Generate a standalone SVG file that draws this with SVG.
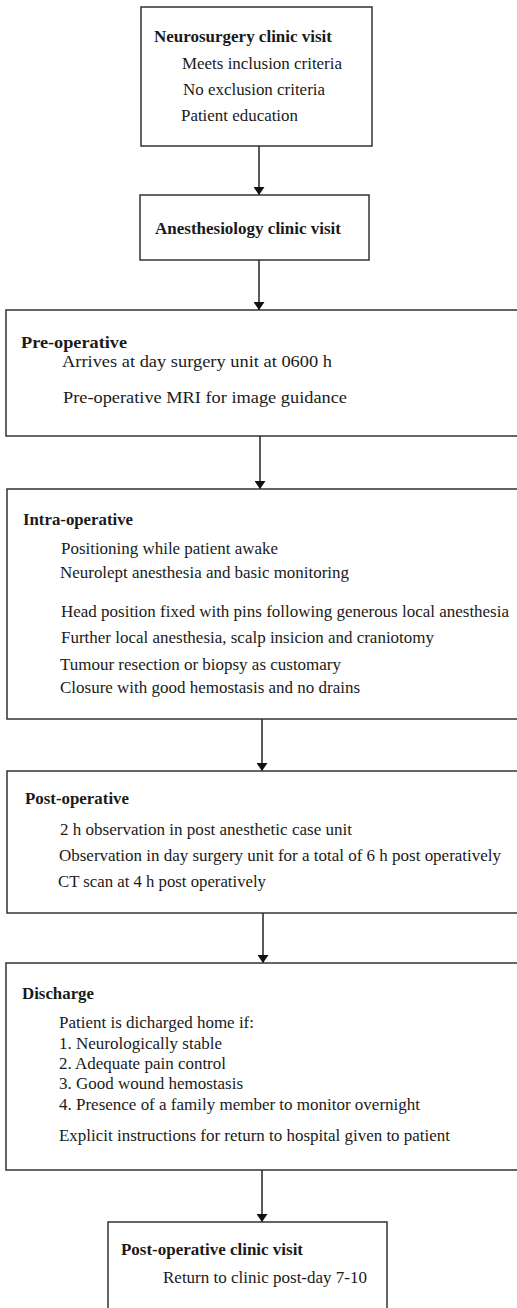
<svg xmlns="http://www.w3.org/2000/svg" width="517" height="1308" viewBox="0 0 517 1308">
<defs>
<style>
.box{fill:#fff;stroke:#333;stroke-width:1.5}
.c{stroke:#222;stroke-width:1.5;fill:none;marker-end:url(#ah)}
</style>
<marker id="ah" markerUnits="userSpaceOnUse" markerWidth="8" markerHeight="11" refX="8" refY="5.5" orient="auto">
<path d="M0,0 L8,5.5 L0,11 z" fill="#111"/>
</marker>
</defs>
<rect width="517" height="1308" fill="#fff"/>
<g id="connectors">
<line class="c" x1="259" y1="146" x2="259" y2="195"/>
<line class="c" x1="259" y1="260" x2="259" y2="310"/>
<line class="c" x1="260" y1="436" x2="260" y2="489"/>
<line class="c" x1="262" y1="719" x2="262" y2="771"/>
<line class="c" x1="263" y1="913" x2="263" y2="963"/>
<line class="c" x1="262" y1="1170" x2="262" y2="1222"/>
</g>
<g font-family="Liberation Serif" font-size="17" fill="#1a1a1a" lengthAdjust="spacingAndGlyphs">
<g id="neurosurgery">
<rect class="box" x="141" y="7" width="231" height="139"/>
<text font-weight="bold" font-size="16" x="154" y="42" textLength="178" lengthAdjust="spacingAndGlyphs">Neurosurgery clinic visit</text>
<text x="182" y="69" textLength="160" lengthAdjust="spacingAndGlyphs">Meets inclusion criteria</text>
<text x="183" y="95" textLength="142" lengthAdjust="spacingAndGlyphs">No exclusion criteria</text>
<text x="181" y="121" textLength="117" lengthAdjust="spacingAndGlyphs">Patient education</text>
</g>
<g id="anesthesiology">
<rect class="box" x="140" y="195" width="229" height="65"/>
<text font-weight="bold" font-size="16" x="155" y="234" textLength="186" lengthAdjust="spacingAndGlyphs">Anesthesiology clinic visit</text>
</g>
<g id="preop">
<rect class="box" x="6" y="310" width="530" height="126"/>
<text font-weight="bold" font-size="16" x="21" y="348" textLength="106" lengthAdjust="spacingAndGlyphs">Pre-operative</text>
<text x="62" y="367" textLength="270" lengthAdjust="spacingAndGlyphs">Arrives at day surgery unit at 0600 h</text>
<text x="63" y="403" textLength="284" lengthAdjust="spacingAndGlyphs">Pre-operative MRI for image guidance</text>
</g>
<g id="intraop">
<rect class="box" x="7" y="489" width="530" height="230"/>
<text font-weight="bold" font-size="16" x="23" y="525" textLength="110" lengthAdjust="spacingAndGlyphs">Intra-operative</text>
<text x="61" y="554" textLength="217" lengthAdjust="spacingAndGlyphs">Positioning while patient awake</text>
<text x="60" y="578" textLength="289" lengthAdjust="spacingAndGlyphs">Neurolept anesthesia and basic monitoring</text>
<text x="61" y="617" textLength="448" lengthAdjust="spacingAndGlyphs">Head position fixed with pins following generous local anesthesia</text>
<text x="61" y="643" textLength="373" lengthAdjust="spacingAndGlyphs">Further local anesthesia, scalp insicion and craniotomy</text>
<text x="60" y="670" textLength="281" lengthAdjust="spacingAndGlyphs">Tumour resection or biopsy as customary</text>
<text x="60" y="693" textLength="300" lengthAdjust="spacingAndGlyphs">Closure with good hemostasis and no drains</text>
</g>
<g id="postop">
<rect class="box" x="7" y="771" width="530" height="142"/>
<text font-weight="bold" font-size="16" x="25" y="804" textLength="104" lengthAdjust="spacingAndGlyphs">Post-operative</text>
<text x="60" y="835" textLength="292" lengthAdjust="spacingAndGlyphs">2 h observation in post anesthetic case unit</text>
<text x="59" y="861" textLength="442" lengthAdjust="spacingAndGlyphs">Observation in day surgery unit for a total of 6 h post operatively</text>
<text x="58" y="887" textLength="208" lengthAdjust="spacingAndGlyphs">CT scan at 4 h post operatively</text>
</g>
<g id="discharge">
<rect class="box" x="6" y="963" width="530" height="207"/>
<text font-weight="bold" font-size="16" x="22" y="999" textLength="72" lengthAdjust="spacingAndGlyphs">Discharge</text>
<text x="59" y="1028" textLength="195" lengthAdjust="spacingAndGlyphs">Patient is dicharged home if:</text>
<text x="59" y="1049" textLength="163" lengthAdjust="spacingAndGlyphs">1. Neurologically stable</text>
<text x="59" y="1069" textLength="167" lengthAdjust="spacingAndGlyphs">2. Adequate pain control</text>
<text x="59" y="1089" textLength="184" lengthAdjust="spacingAndGlyphs">3. Good wound hemostasis</text>
<text x="59" y="1110" textLength="361" lengthAdjust="spacingAndGlyphs">4. Presence of a family member to monitor overnight</text>
<text x="59" y="1141" textLength="391" lengthAdjust="spacingAndGlyphs">Explicit instructions for return to hospital given to patient</text>
</g>
<g id="clinic">
<rect class="box" x="108" y="1222" width="279" height="100"/>
<text font-weight="bold" font-size="16" x="121" y="1255" textLength="182" lengthAdjust="spacingAndGlyphs">Post-operative clinic visit</text>
<text x="163" y="1283" textLength="204" lengthAdjust="spacingAndGlyphs">Return to clinic post-day 7-10</text>
</g>
</g>
</svg>
